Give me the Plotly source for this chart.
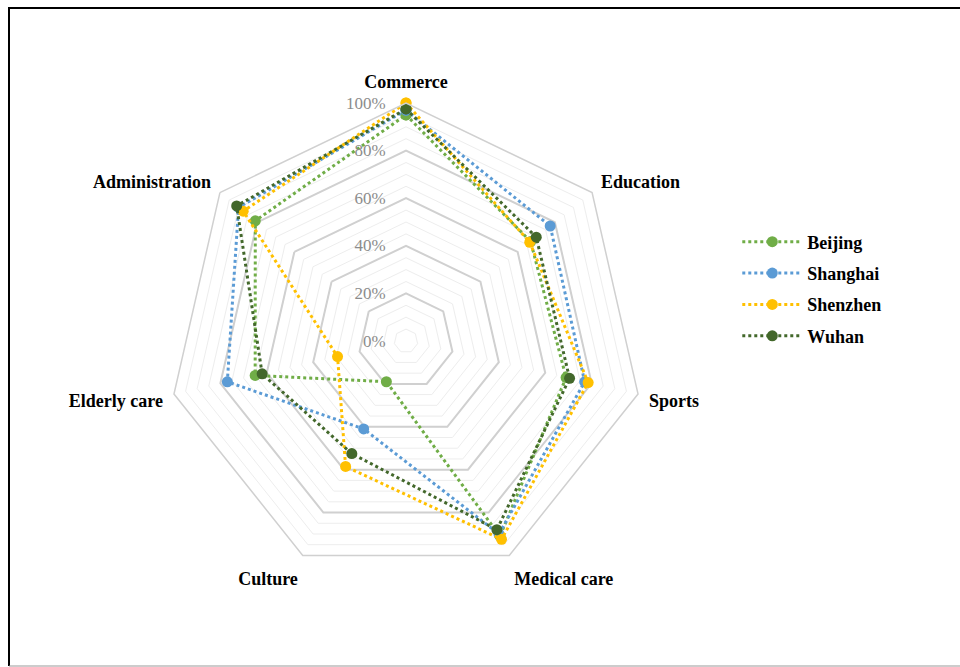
import plotly.graph_objects as go

# Service categories around the radar, clockwise from the top
categories = ["Commerce", "Education", "Sports", "Medical care",
              "Culture", "Elderly care", "Administration"]

# Coverage (%) for each city, in category order
beijing = [95, 67, 69, 91, 19, 65, 81]
shanghai = [97, 77.5, 77, 90, 41, 77, 90]
shenzhen = [100, 66.5, 78.5, 92.5, 58.5, 29.5, 87.5]
wuhan = [97.5, 70, 70.5, 88, 52.5, 62, 91]

cities = ["Beijing", "Shanghai", "Shenzhen", "Wuhan"]
series = [beijing, shanghai, shenzhen, wuhan]
colors = ["#70AD47", "#5B9BD5", "#FFC000", "#43682B"]

serif = "Liberation Serif"

fig = go.Figure()

# Invisible anchor so the fine-grid polar gets rendered
fig.add_trace(go.Scatterpolar(
    r=[0], theta=categories[:1], mode="markers",
    marker=dict(opacity=0), showlegend=False, hoverinfo="skip",
    subplot="polar",
))

for name, vals, col in zip(cities, series, colors):
    fig.add_trace(go.Scatterpolar(
        r=vals + vals[:1],
        theta=categories + categories[:1],
        mode="lines+markers",
        name=name,
        legendgroup=name,
        line=dict(color=col, width=3, dash="dot"),
        marker=dict(color=col, size=11),
        subplot="polar2",
    ))

domain = dict(x=[168 / 960, 644 / 960], y=[88 / 667, 564 / 667])

# Lower polar: fine 5% rings only
fig.update_layout(polar=dict(
    domain=domain,
    gridshape="linear",
    bgcolor="white",
    radialaxis=dict(range=[0, 100], dtick=5, showticklabels=False, ticks="",
                    showline=False, gridcolor="#EDEDED", gridwidth=1),
    angularaxis=dict(categoryarray=categories, type="category", rotation=90,
                     direction="clockwise", showgrid=False, showline=False,
                     showticklabels=False, ticks=""),
))

# Upper polar: 20% rings, labels and the data
fig.update_layout(polar2=dict(
    domain=domain,
    gridshape="linear",
    bgcolor="rgba(0,0,0,0)",
    radialaxis=dict(range=[0, 100], dtick=20, ticksuffix="%", angle=90,
                    tickangle=90, side="counterclockwise",
                    ticks="outside", ticklen=14, tickcolor="rgba(0,0,0,0)",
                    showline=False, gridcolor="#D0D0D0", gridwidth=1.5,
                    tickfont=dict(family=serif, size=17, color="#8C8C8C")),
    angularaxis=dict(categoryarray=categories, type="category", rotation=90,
                     direction="clockwise", showgrid=False, showline=True,
                     linecolor="#D0D0D0", linewidth=1.5,
                     ticks="outside", ticklen=7, tickcolor="rgba(0,0,0,0)",
                     tickfont=dict(family=serif, size=18, color="black",
                                   weight="bold")),
))

fig.update_layout(
    width=960, height=667,
    margin=dict(l=0, r=0, t=0, b=0),
    paper_bgcolor="white",
    showlegend=True,
    legend=dict(x=0.768, y=0.665, xanchor="left", yanchor="top",
                font=dict(family=serif, size=18, color="black", weight="bold"),
                itemwidth=60, traceorder="grouped", tracegroupgap=5,
                bgcolor="rgba(0,0,0,0)"),
    shapes=[
        dict(type="line", xref="paper", yref="paper", x0=8 / 960, x1=1.01,
             y0=1 - 8 / 667, y1=1 - 8 / 667, line=dict(color="black", width=2)),
        dict(type="line", xref="paper", yref="paper", x0=9 / 960, x1=9 / 960,
             y0=1 - 8 / 667, y1=1 / 667, line=dict(color="black", width=2)),
        dict(type="line", xref="paper", yref="paper", x0=9 / 960, x1=1.01,
             y0=1 / 667, y1=1 / 667, line=dict(color="#999999", width=1)),
    ],
)

fig.write_html("out.html")
